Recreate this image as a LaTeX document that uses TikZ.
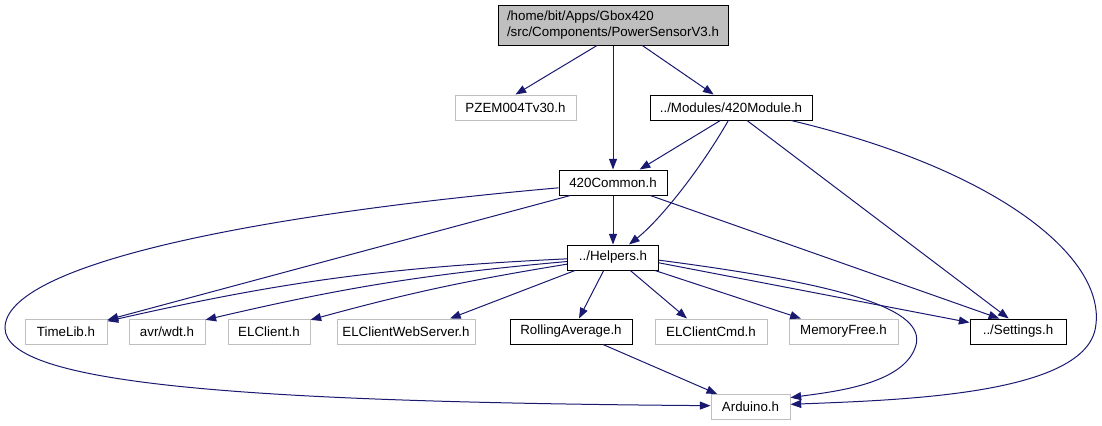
\documentclass[tikz,border=0pt]{standalone}
\usepackage{fontspec}
\setmainfont{Liberation Sans}
\usepackage{xcolor}
\usepackage{tikz}
\usetikzlibrary{arrows.meta}
\definecolor{edgeblue}{RGB}{25,25,112}
\definecolor{rootgrey}{RGB}{191,191,191}
\definecolor{extgrey}{RGB}{191,191,191}
\tikzset{
  localhdr/.style={draw=black,line width=0.75pt,fill=white,inner sep=0pt,
    minimum width=#1*0.75pt,minimum height=18.75pt,font=\fontsize{10}{12}\selectfont},
  exthdr/.style={localhdr=#1,draw=extgrey},
  roothdr/.style={localhdr=#1,fill=rootgrey,minimum height=30pt,align=left},
  dep/.style={-{Triangle[length=8pt,width=6pt]},line width=0.75pt,draw=edgeblue}
}

\begin{document}
\begin{tikzpicture}[x=0.75pt,y=-0.75pt]
  \useasboundingbox (0,0) rectangle (1102,425);
  % top levels
  \node[roothdr=230] (root) at (613,25)
    {/home/bit/Apps/Gbox420\\/src/Components/PowerSensorV3.h};
  \node[exthdr=121] (pzem) at (515.5,107.5) {PZEM004Tv30.h};
  \node[localhdr=162] (module) at (731,107.5) {../Modules/420Module.h};
  \node[localhdr=108] (common) at (613,182.5) {420Common.h};
  \node[localhdr=91] (helpers) at (613,257.5) {../Helpers.h};
  % bottom row
  \node[exthdr=82] (timelib) at (66,331.5) {TimeLib.h};
  \node[exthdr=76] (wdt) at (167,331.5) {avr/wdt.h};
  \node[exthdr=82] (elclient) at (269,331.5) {ELClient.h};
  \node[exthdr=138] (webserver) at (406,331.5) {ELClientWebServer.h};
  \node[localhdr=122] (rolling) at (571,331.5) {RollingAverage.h};
  \node[exthdr=112] (cmd) at (711,331.5) {ELClientCmd.h};
  \node[exthdr=109] (memfree) at (843.5,331.5) {MemoryFree.h};
  \node[localhdr=96] (settings) at (1018,331.5) {../Settings.h};
  \node[exthdr=79] (arduino) at (750.5,407) {Arduino.h};

  % root includes
  \draw[dep] ([xshift=-12pt]root.south) -- (pzem.north);
  \draw[dep] (root) -- (common);
  \draw[dep] ([xshift=22pt]root.south) -- ([xshift=-13pt]module.north);
  % 420Module includes
  \draw[dep] ([xshift=-8pt]module.south) -- ([xshift=20pt]common.north);
  \draw[dep] ([xshift=-2pt]module.south) .. controls (700,170) and (660,220)
    .. ([xshift=12pt]helpers.north);
  \draw[dep] ([xshift=12pt]module.south) -- ([xshift=-7pt]settings.north);
  \draw[dep] ([xshift=-16pt]module.south east) .. controls (1000,170) and (1110,260)
    .. (1095,330) .. controls (1080,395) and (900,400) .. ([yshift=2pt]arduino.east);
  % 420Common includes
  \draw[dep] ([xshift=-32pt]common.south) -- ([yshift=-1pt]timelib.north east);
  \draw[dep] ([yshift=-4pt]common.west) .. controls (250,215) and (5,265)
    .. (5,328) .. controls (5,385) and (250,402) .. ([yshift=1pt]arduino.west);
  \draw[dep] (common) -- (helpers);
  \draw[dep] ([xshift=28pt]common.south) -- ([xshift=-14pt]settings.north);
  % Helpers includes
  \draw[dep] ([yshift=-1pt]helpers.west) to[bend right=5] ([yshift=-2pt]timelib.north east);
  \draw[dep] ([yshift=-3pt]helpers.west) to[bend right=4] ([yshift=-1pt]wdt.north east);
  \draw[dep] ([yshift=-5pt]helpers.west) to[bend right=3] ([yshift=-1pt]elclient.north east);
  \draw[dep] ([xshift=6pt]helpers.south west) -- ([xshift=33pt]webserver.north);
  \draw[dep] ([xshift=-7pt]helpers.south) -- ([xshift=6pt]rolling.north);
  \draw[dep] ([xshift=13pt]helpers.south) -- ([xshift=-18pt]cmd.north);
  \draw[dep] ([xshift=-3pt]helpers.south east) -- ([xshift=-32pt]memfree.north);
  \draw[dep] ([yshift=-4pt]helpers.east) -- ([yshift=-3pt]settings.north west);
  \draw[dep] ([yshift=-2pt]helpers.east) .. controls (850,285) and (925,310)
    .. (916,345) .. controls (905,385) and (830,392) .. ([yshift=7pt]arduino.east);
  % RollingAverage includes
  \draw[dep] ([xshift=24pt]rolling.south) -- ([xshift=-25pt]arduino.north);
\end{tikzpicture}
\end{document}
